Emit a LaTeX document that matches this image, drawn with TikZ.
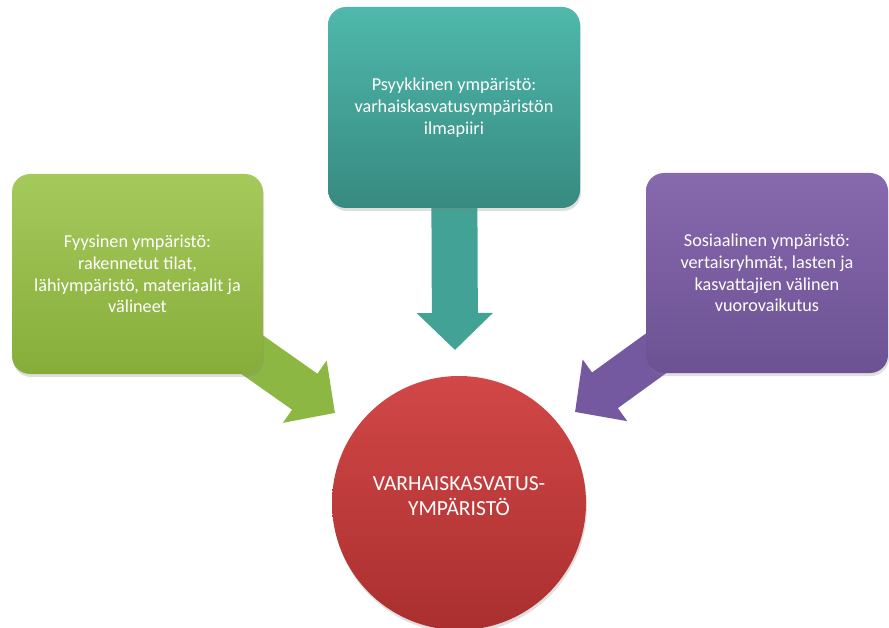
\documentclass[tikz,border=0pt]{standalone}
\usepackage{fontspec}
\setmainfont{Carlito}
\usetikzlibrary{arrows.meta,shadows,backgrounds}
\definecolor{grntop}{HTML}{A6C95C}
\definecolor{grnbot}{HTML}{86AD3A}
\definecolor{grnarr}{HTML}{8DB743}
\definecolor{teltop}{HTML}{4FB8AC}
\definecolor{telbot}{HTML}{378A80}
\definecolor{telarr}{HTML}{43A296}
\definecolor{purtop}{HTML}{8769AE}
\definecolor{purbot}{HTML}{6C5293}
\definecolor{purarr}{HTML}{7459A1}
\definecolor{redtop}{HTML}{D24747}
\definecolor{redbot}{HTML}{AA2F2F}
\begin{document}
\begin{tikzpicture}[x=1pt,y=-1pt,
    envbox/.style={rounded corners=18pt,minimum height=200pt,align=center,
      text=white,font=\fontsize{18.2}{21.7}\selectfont,
      drop shadow={shadow xshift=1pt,shadow yshift=-3pt,opacity=.25}},
    blockarrow/.style={line width=44pt,-{Triangle[length=37pt,width=74pt]}}]
  \useasboundingbox (0,0) rectangle (889,628);

  % the three surroundings
  \node[envbox,minimum width=251pt,top color=grntop,bottom color=grnbot] (fyys) at (137.5,274)
    {Fyysinen ympäristö:\\rakennetut tilat,\\lähiympäristö, materiaalit ja\\välineet};
  \node[envbox,minimum width=252pt,minimum height=201pt,top color=teltop,bottom color=telbot] (psyk) at (454,107.5)
    {Psyykkinen ympäristö:\\varhaiskasvatusympäristön\\ilmapiiri};
  \node[envbox,minimum width=242pt,top color=purtop,bottom color=purbot] (sosi) at (767,273)
    {Sosiaalinen ympäristö:\\vertaisryhmät, lasten ja\\kasvattajien välinen\\vuorovaikutus};

  % centre
  \node[circle,minimum size=254pt,inner sep=0pt,top color=redtop,bottom color=redbot,
    drop shadow={shadow xshift=1pt,shadow yshift=-3pt,opacity=.25}] (vark) at (459,503) {};
  \node[align=center,text=white,font=\fontsize{21.5}{25}\selectfont] (varktxt)
    at ([yshift=7pt]vark.center) {VARHAISKASVATUS-\\YMPÄRISTÖ};

  \coordinate (ftip) at (335,413);
  \coordinate (ptip) at (455,350);
  \coordinate (stip) at (575,412);

  \begin{scope}[on background layer]
    \draw[blockarrow,grnarr] (fyys.center) -- (ftip);
    \draw[blockarrow,telarr,line width=46pt] (psyk.center) -- (ptip);
    \draw[blockarrow,purarr] (sosi.center) -- (stip);
  \end{scope}
\end{tikzpicture}
\end{document}
